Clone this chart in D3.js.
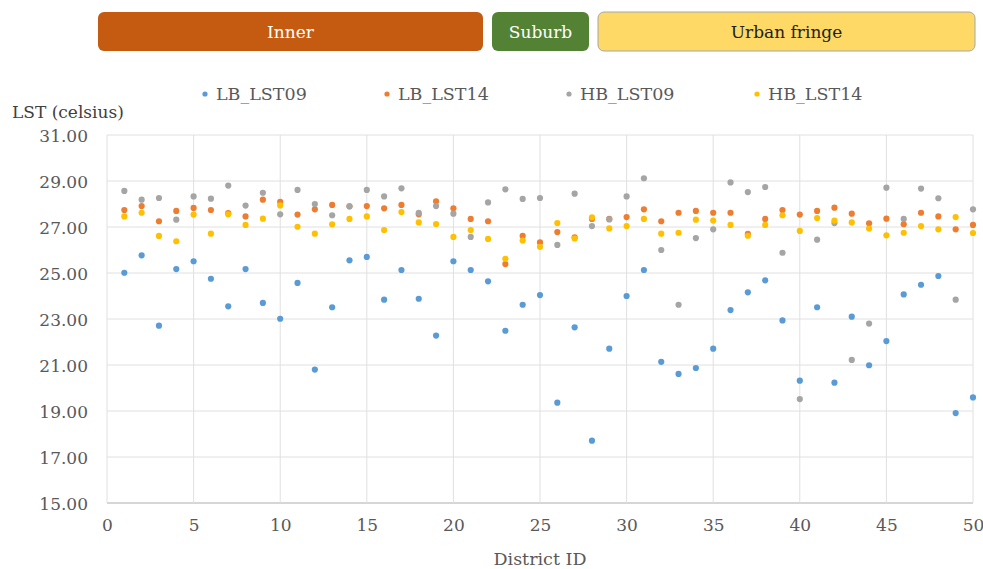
<!DOCTYPE html>
<html><head><meta charset="utf-8">
<script src="https://cdn.jsdelivr.net/npm/d3@7/dist/d3.min.js"></script>
<style>body{margin:0;background:#fff}svg{display:block}</style>
</head><body><svg id="c" width="983" height="569"></svg>
<script>
const districts = d3.range(1, 51);
const LB_LST09 = [25.01,25.77,22.71,25.17,25.51,24.75,23.55,25.17,23.70,23.01,
  24.57,20.80,23.51,25.55,25.70,23.84,25.13,23.88,22.28,25.51,
  25.13,24.64,22.49,23.62,24.04,19.36,22.64,17.71,21.71,24.00,
  25.13,21.14,20.61,20.87,21.71,23.39,24.16,24.68,22.94,20.32,
  23.51,20.23,23.10,20.99,22.04,24.07,24.49,24.87,18.91,19.59];
const LB_LST14 = [27.74,27.91,27.25,27.70,27.83,27.74,27.60,27.46,28.19,28.09,
  27.54,27.77,27.96,27.90,27.91,27.81,27.96,27.55,28.12,27.81,
  27.35,27.25,25.39,26.61,26.33,26.78,26.55,27.35,27.35,27.43,
  27.77,27.25,27.62,27.70,27.62,27.62,26.70,27.35,27.74,27.54,
  27.70,27.84,27.58,27.16,27.36,27.12,27.62,27.46,26.90,27.09];
const HB_LST09 = [28.57,28.19,28.26,27.32,28.33,28.23,28.80,27.93,28.49,27.55,
  28.61,28.00,27.51,27.90,28.61,28.33,28.68,27.62,27.91,27.58,
  26.57,28.07,28.64,28.22,28.26,26.22,28.45,27.04,27.33,28.33,
  29.12,26.00,23.62,26.52,26.90,28.94,28.52,28.74,25.88,19.52,
  26.45,27.17,21.22,22.80,28.71,27.35,28.67,28.25,23.84,27.77];
const HB_LST14 = [27.46,27.62,26.61,26.38,27.54,26.71,27.55,27.09,27.36,27.94,
  27.01,26.71,27.12,27.35,27.46,26.87,27.65,27.20,27.13,26.57,
  26.87,26.48,25.62,26.41,26.14,27.17,26.50,27.42,26.94,27.04,
  27.35,26.71,26.75,27.32,27.28,27.09,26.62,27.09,27.51,26.83,
  27.39,27.28,27.20,26.93,26.64,26.75,27.04,26.90,27.43,26.74];
const seriesNames = ["LB_LST09","LB_LST14","HB_LST09","HB_LST14"];
const seriesColors = ["#5B9BD5","#ED7D31","#A5A5A5","#FFC000"];
const yTicks = [15,17,19,21,23,25,27,29,31];
const xTicks = [0,5,10,15,20,25,30,35,40,45,50];
const zones = [
  {name:"Inner", fill:"#C55A11", text:"#ffffff"},
  {name:"Suburb", fill:"#548235", text:"#ffffff"},
  {name:"Urban fringe", fill:"#FFD966", text:"#222222"}
];
const zoneX = [[98,483],[492,589],[598,975]];

const svg = d3.select("#c");
const FONT = "DejaVu Serif";
const M = {left:107, right:973, top:135, bottom:503};
const x = d3.scaleLinear().domain([0,50]).range([M.left, M.right]);
const y = d3.scaleLinear().domain([15,31]).range([M.bottom, M.top]);

// banners
zones.forEach((z,i) => {
  const [x0,x1] = zoneX[i];
  svg.append("rect").attr("x",x0).attr("y",12).attr("width",x1-x0).attr("height",39)
    .attr("rx",6).attr("fill",z.fill).attr("stroke", i===2 ? "#A6A6A6" : "none").attr("stroke-width",1);
  svg.append("text").attr("x",(x0+x1)/2).attr("y",38).attr("text-anchor","middle")
    .attr("font-family",FONT).attr("font-size",17).attr("fill",z.text).text(z.name);
});

// gridlines
const g = svg.append("g");
g.selectAll("line.h").data(yTicks).join("line")
  .attr("x1",M.left).attr("x2",M.right).attr("y1",d=>y(d)).attr("y2",d=>y(d))
  .attr("stroke",d=> d===15 ? "#C8C8C8" : "#E0E0E0").attr("stroke-width",d=>d===15?1.5:1);
g.selectAll("line.v").data(xTicks).join("line")
  .attr("y1",M.top).attr("y2",M.bottom).attr("x1",d=>x(d)).attr("x2",d=>x(d))
  .attr("stroke","#E0E0E0").attr("stroke-width",1);

// axes labels
const yAxis = d3.axisLeft(y).tickValues(yTicks).tickFormat(d3.format(".2f")).tickSize(0).tickPadding(19);
const ya = svg.append("g").attr("transform",`translate(${M.left},0)`).call(yAxis);
ya.select(".domain").remove();
ya.selectAll("text").attr("font-family",FONT).attr("font-size",17).attr("fill","#595959").attr("dy","0.38em");
const xAxis = d3.axisBottom(x).tickValues(xTicks).tickFormat(d3.format("d")).tickSize(0).tickPadding(16);
const xa = svg.append("g").attr("transform",`translate(0,${M.bottom})`).call(xAxis);
xa.select(".domain").remove();
xa.selectAll("text").attr("font-family",FONT).attr("font-size",17).attr("fill","#595959");

svg.append("text").attr("x",12).attr("y",118).attr("font-family",FONT).attr("font-size",17)
  .attr("fill","#404040").text("LST (celsius)");
svg.append("text").attr("x",540).attr("y",565).attr("text-anchor","middle").attr("font-family",FONT)
  .attr("font-size",17.5).attr("fill","#595959").text("District ID");

// points
const allSeries = [LB_LST09, LB_LST14, HB_LST09, HB_LST14];
allSeries.forEach((vals,si) => {
  svg.append("g").selectAll("circle").data(vals).join("circle")
    .attr("cx",(d,i)=>x(districts[i])).attr("cy",d=>y(d)).attr("r",3.1)
    .attr("fill",seriesColors[si]);
});

// legend
const legX = [205, 387, 569, 757];
seriesNames.forEach((n,i) => {
  svg.append("circle").attr("cx",legX[i]).attr("cy",94).attr("r",2.6).attr("fill",seriesColors[i]);
  svg.append("text").attr("x",legX[i]+11).attr("y",100).attr("font-family",FONT).attr("font-size",17.5)
    .attr("fill","#595959").text(n);
});
</script>
</body></html>
